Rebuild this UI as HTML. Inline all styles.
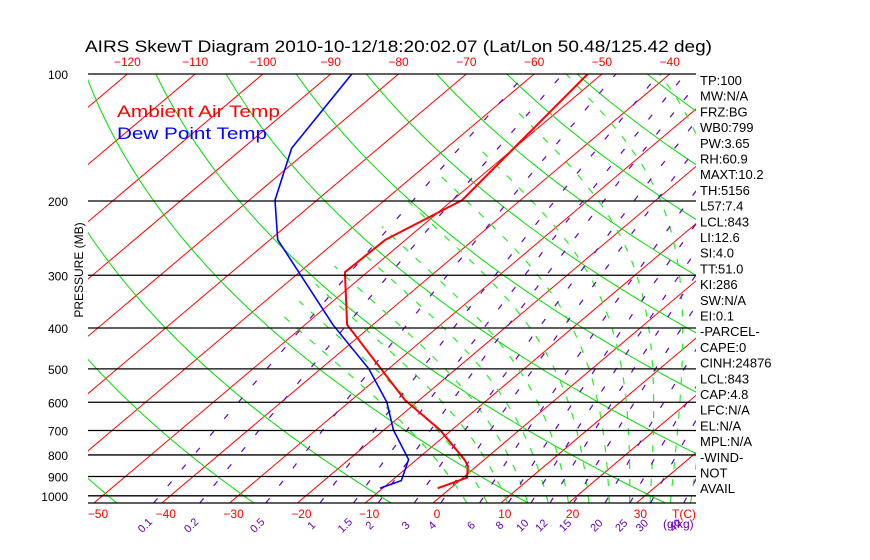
<!DOCTYPE html>
<html><head><meta charset="utf-8"><style>
body{margin:0;background:#fff;}
svg{display:block;font-family:"Liberation Sans",sans-serif;}
</style></head><body>
<svg id="c" width="870" height="560" xmlns="http://www.w3.org/2000/svg">
<defs><clipPath id="pc"><rect x="88" y="74" width="608" height="429"/></clipPath></defs>
<rect width="870" height="560" fill="#fff"/>
<text x="85" y="52" font-size="17" textLength="627" lengthAdjust="spacingAndGlyphs">AIRS SkewT Diagram 2010-10-12/18:20:02.07 (Lat/Lon 50.48/125.42 deg)</text>
<g id="grid" clip-path="url(#pc)"></g>
<g id="axes"></g>
<text x="117" y="117" font-size="17" fill="#ff0000" textLength="163" lengthAdjust="spacingAndGlyphs">Ambient Air Temp</text>
<text x="117" y="139" font-size="17" fill="#0000ff" textLength="150" lengthAdjust="spacingAndGlyphs">Dew Point Temp</text>
<text transform="translate(83,270) rotate(-90)" font-size="12" text-anchor="middle">PRESSURE (MB)</text>
</svg>
<script>
const pressureTicks=[100,200,300,400,500,600,700,800,900,1000];
const bottomTempTicks=[-50,-40,-30,-20,-10,0,10,20,30];
const topTempTicks=[-120,-110,-100,-90,-80,-70,-60,-50,-40];
const mixRatios=[0.1,0.2,0.5,1,1.5,2,3,4,6,8,10,12,15,20,25,30,40];
const tempP=[100,199,247,295,393,593,698,823,850,906,959];
const tempT=[-52.1,-48.6,-53.0,-53.3,-43.8,-22.1,-11.7,-2.8,-1.3,0.6,-1.9];
const dewP=[100,150,199,247,393,500,600,698,820,920,959];
const dewT=[-86.9,-82.8,-76.2,-68.9,-45.9,-32.9,-24.4,-18.6,-11.2,-8.6,-10.4];
const sideLabels=["TP:100","MW:N/A","FRZ:BG","WB0:799","PW:3.65","RH:60.9","MAXT:10.2","TH:5156","L57:7.4","LCL:843","LI:12.6","SI:4.0","TT:51.0","KI:286","SW:N/A","EI:0.1","-PARCEL-","CAPE:0","CINH:24876","LCL:843","CAP:4.8","LFC:N/A","EL:N/A","MPL:N/A","-WIND-","NOT","AVAIL"];

const NS="http://www.w3.org/2000/svg";
const PB=1040;
function yP(p){return 74+183.2*Math.log(p/100);}
function xT(T,p){return 433+6.78*T+1.184*(503-yP(p));}
const grid=document.getElementById('grid'),axes=document.getElementById('axes');
function mk(tag,attrs,parent){const e=document.createElementNS(NS,tag);for(const k in attrs)e.setAttribute(k,attrs[k]);parent.appendChild(e);return e;}
function pathFrom(pts){return pts.map((q,i)=>(i?'L':'M')+q[0].toFixed(1)+','+q[1].toFixed(1)).join('');}
function pList(){const a=[];for(let p=PB;p>=95;p-=5)a.push(p);return a;}

for(let T=-170;T<=50;T+=10){
  const e=mk('line',{x1:xT(T,PB),y1:yP(PB),x2:xT(T,95),y2:yP(95),stroke:'#ff0000','stroke-width':1},grid);
  
  
}
for(let th=184;th<=700;th+=20){
  const pts=pList().map(p=>[xT(th*Math.pow(p/1000,0.286)-273.15,p),yP(p)]);
  const e=mk('path',{d:pathFrom(pts),fill:'none',stroke:'#00dd00','stroke-width':1},grid);
  
  
}
function es(Tc){return 6.112*Math.exp(17.67*Tc/(Tc+243.5));}
for(let T0=5;T0<=40;T0+=3){
  let T=T0+273.15,p=PB;const pts=[[xT(T0,p),yP(p)]];
  while(p>100 && T-273.15>-55){const e=es(T-273.15);const rs=0.622*e/(p-e);
    const dTdp=(287*T+2.5e6*rs)/(1004+2.5e6*2.5e6*rs*0.622/(287*T*T))/p;
    T-=dTdp*5;p-=5;pts.push([xT(T-273.15,p),yP(p)]);}
  const e=mk('path',{d:pathFrom(pts),fill:'none',stroke:'#22ee22','stroke-width':1.2,'stroke-dasharray':'7 10'},grid);
  
  
}
function tdFor(w,p){const e=w*p/(622+w);const l=Math.log(e/6.112);return 243.5*l/(17.67-l);}
mixRatios.forEach(w=>{
  const pts=pList().map(p=>[xT(tdFor(w,p),p),yP(p)]);
  const e=mk('path',{d:pathFrom(pts),fill:'none',stroke:'#6600bb','stroke-width':1.2,'stroke-dasharray':'6 16'},grid);
  
  
  const x=xT(tdFor(w,PB),PB)-6;
  const t=mk('text',{transform:`translate(${x.toFixed(1)},528) rotate(-45)`,'font-size':11,fill:'#6600bb','text-anchor':'middle'},axes);
  t.textContent=w;
  
  
});
pressureTicks.forEach(p=>{
  const y=yP(p);
  const l=mk('line',{x1:88,y1:y,x2:696,y2:y,stroke:'#000','stroke-width':1.3},axes);
  
  
  const t=mk('text',{x:68,y:y+5,'font-size':12,'text-anchor':'end'},axes);
  t.textContent=p;
  
  
});
const b=mk('line',{x1:88,y1:503,x2:696,y2:503,stroke:'#000','stroke-width':1.3},axes);


bottomTempTicks.forEach(T=>{
  const t=mk('text',{x:xT(T,PB)+4,y:518,'font-size':12,fill:'#ff0000','text-anchor':'middle'},axes);
  t.textContent=T<0?'\u2212'+(-T):T;
  
  
});
topTempTicks.forEach(T=>{
  const t=mk('text',{x:xT(T,100),y:66,'font-size':12,fill:'#ff0000','text-anchor':'middle'},axes);
  t.textContent='\u2212'+(-T);
  
  
});
let tc=mk('text',{x:684,y:518,'font-size':12,fill:'#ff0000','text-anchor':'middle'},axes);tc.textContent='T(C)';


let gk=mk('text',{x:663,y:528,'font-size':12,fill:'#6600bb'},axes);gk.textContent='(g/kg)';


sideLabels.forEach((s,i)=>{
  const t=mk('text',{x:700,y:85+i*15.7,'font-size':13},axes);
  t.textContent=s;
  
  
});
const tl=mk('path',{d:pathFrom(tempP.map((p,i)=>[xT(tempT[i],p),yP(p)])),fill:'none',stroke:'#ff0000','stroke-width':2},grid);


const dl=mk('path',{d:pathFrom(dewP.map((p,i)=>[xT(dewT[i],p),yP(p)])),fill:'none',stroke:'#0000ff','stroke-width':1.6},grid);


</script>
</body></html>
